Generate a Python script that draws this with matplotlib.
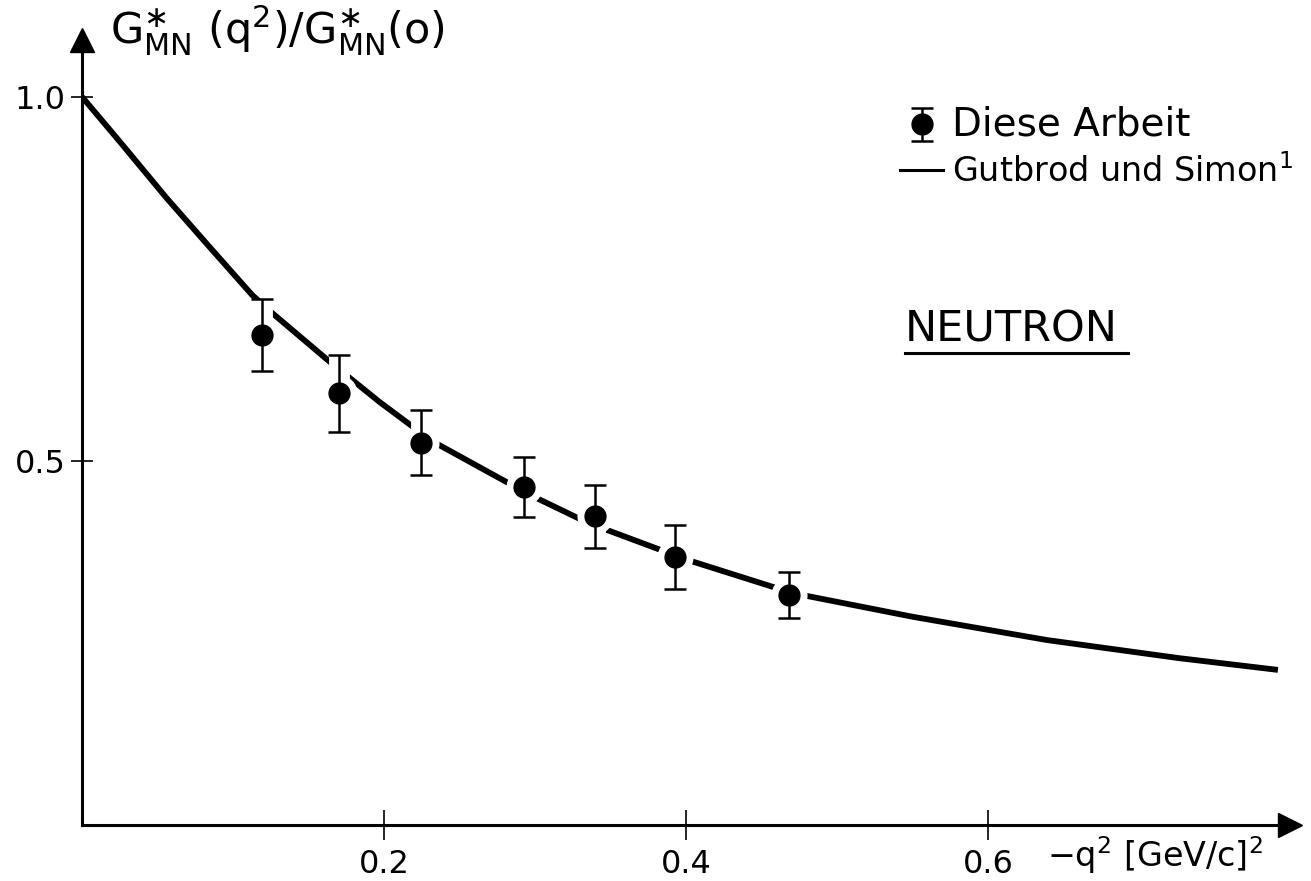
import matplotlib
matplotlib.use('Agg')
import matplotlib.pyplot as plt
from matplotlib.lines import Line2D

plt.rcParams['font.family'] = 'DejaVu Sans'
plt.rcParams['mathtext.fontset'] = 'dejavusans'

# measured points (Diese Arbeit)
q2 = [0.119, 0.170, 0.2245, 0.293, 0.340, 0.393, 0.468]
gm = [0.673, 0.593, 0.525, 0.464, 0.424, 0.368, 0.316]
err = [0.050, 0.053, 0.045, 0.041, 0.043, 0.044, 0.032]

# curve Gutbrod und Simon
curve_x = [0.0, 0.0252, 0.056, 0.0848, 0.1126, 0.126, 0.163, 0.197, 0.232,
           0.282, 0.299, 0.331, 0.344, 0.388, 0.401, 0.459, 0.479, 0.550,
           0.639, 0.727, 0.792]
curve_y = [1.0, 0.938, 0.861, 0.793, 0.728, 0.703, 0.638, 0.581, 0.527,
           0.470, 0.451, 0.419, 0.408, 0.374, 0.364, 0.326, 0.315, 0.286,
           0.254, 0.229, 0.213]

xticks = [0.2, 0.4, 0.6]
xticklabels = ['0.2', '0.4', '0.6']
yticks = [0.5, 1.0]
yticklabels = ['0.5', '1.0']

fig = plt.figure(figsize=(13.11, 8.81), dpi=100)
ax = fig.add_axes([82/1311, 56/881, (1290-82)/1311, (825-40)/881])
ax.set_xlim(0, 0.8)
ax.set_ylim(0, 1.078)

# curve
line, = ax.plot(curve_x, curve_y, color='black', lw=4.2, solid_capstyle='butt',
                solid_joinstyle='round', zorder=2)

# white halo so the curve breaks at each point
ax.errorbar(q2, gm, yerr=err, fmt='o', color='white', ms=26, mew=0,
            elinewidth=15, capsize=14, capthick=12, zorder=3)
pts = ax.errorbar(q2, gm, yerr=err, fmt='o', color='black', ms=15,
                  elinewidth=1.8, capsize=8, capthick=1.8, zorder=4)

# axes styling
for s in ['top', 'right']:
    ax.spines[s].set_visible(False)
ax.spines['left'].set_linewidth(2.2)
ax.spines['bottom'].set_linewidth(2.2)
ax.plot(1, 0, '>k', ms=17, transform=ax.transAxes, clip_on=False)
ax.plot(0, 1, '^k', ms=17, transform=ax.transAxes, clip_on=False)

ax.set_xticks(xticks)
ax.set_xticklabels(xticklabels)
ax.set_yticks(yticks)
ax.set_yticklabels(yticklabels)
ax.tick_params(axis='both', direction='inout', width=1.2, labelsize=23)
ax.tick_params(axis='x', length=22, pad=6)
ax.tick_params(axis='y', length=16, pad=4)

# axis titles
fig.text(110/1311, 1 - 30/881,
         r'$\mathrm{G}^{\ast}_{\mathrm{MN}}\ (\mathrm{q}^2)/\mathrm{G}^{\ast}_{\mathrm{MN}}(\mathrm{o})$',
         fontsize=31, va='center', ha='left')
ax.text(0.639, -0.058, r'$-\mathrm{q}^2\ [\mathrm{GeV/c}]^2$', fontsize=24,
        ha='left', va='baseline')

# legend
h2 = Line2D([], [], color='black', lw=2.2)
leg = ax.legend([pts, h2], ['Diese Arbeit', 'Gutbrod und Simon$^1$'],
                loc='upper left', bbox_to_anchor=(900/1311, 1 - 106/881),
                bbox_transform=fig.transFigure, frameon=False, fontsize=24,
                handlelength=1.3, handletextpad=0.25, labelspacing=0.3,
                borderaxespad=0, borderpad=0)
leg.get_texts()[0].set_fontsize(28)

# NEUTRON label with underline
ax.text(0.545, 0.680, 'NEUTRON', fontsize=31, ha='left', va='center')
ax.plot([0.545, 0.693], [0.648, 0.648], color='black', lw=2.2)

fig.savefig('out.png', dpi=100)
